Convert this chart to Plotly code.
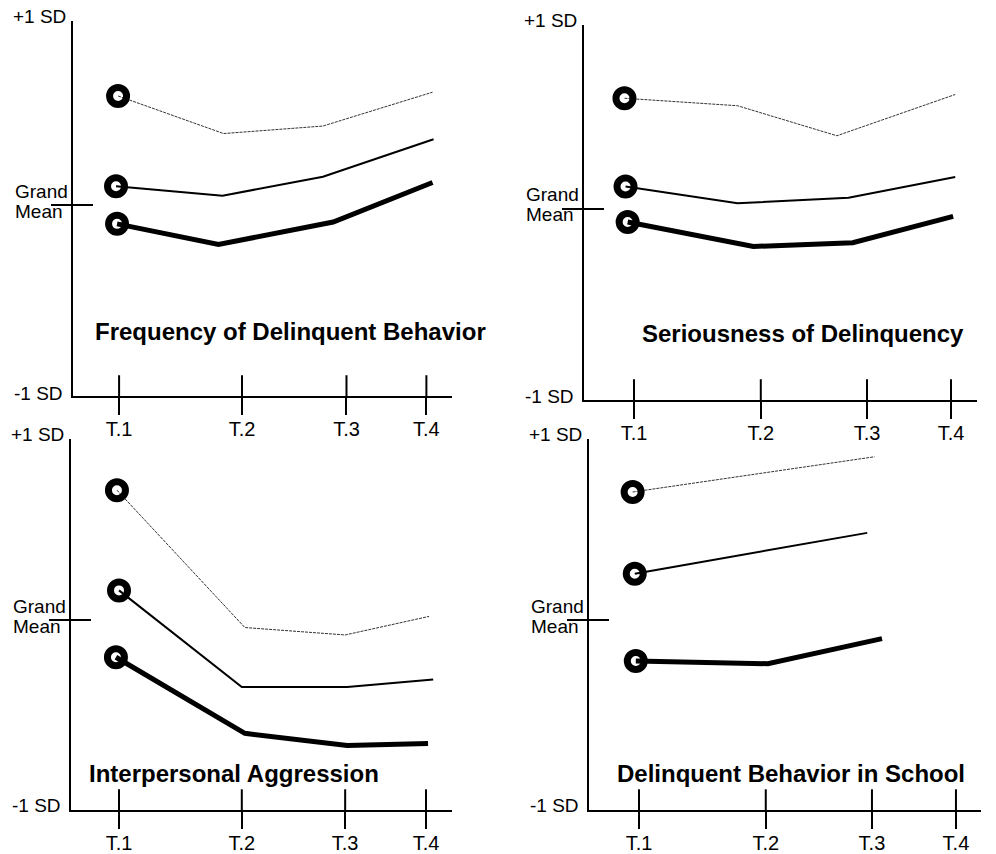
import plotly.graph_objects as go

W, H = 996, 854

tick_labels = ["T.1", "T.2", "T.3", "T.4"]
panel_titles = [
    "Frequency of Delinquent Behavior",
    "Seriousness of Delinquency",
    "Interpersonal Aggression",
    "Delinquent Behavior in School",
]

# ---- data (time in T units, values in SD units; grand mean = 0) ----
# Panel 1: Frequency of Delinquent Behavior
p1_ticks = [1.0, 2.20, 3.22, 4.0]
p1_xrange = [0.55, 4.25]
p1_yrange = [-1.016, 0.979]
p1_thin_x = [0.99, 2.02, 2.99, 4.06]
p1_thin_y = [0.58, 0.38, 0.42, 0.60]
p1_med_x = [0.97, 2.01, 2.99, 4.07]
p1_med_y = [0.10, 0.05, 0.15, 0.35]
p1_thick_x = [0.98, 1.97, 3.09, 4.06]
p1_thick_y = [-0.10, -0.21, -0.09, 0.12]

# Panel 2: Seriousness of Delinquency
p2_ticks = [1.0, 2.20, 3.205, 4.0]
p2_xrange = [0.527, 4.246]
p2_yrange = [-1.019, 0.981]
p2_thin_x = [0.91, 1.98, 2.92, 4.04]
p2_thin_y = [0.59, 0.55, 0.39, 0.61]
p2_med_x = [0.92, 1.98, 3.03, 4.04]
p2_med_y = [0.12, 0.03, 0.06, 0.17]
p2_thick_x = [0.94, 2.13, 3.07, 4.02]
p2_thick_y = [-0.07, -0.20, -0.18, -0.04]

# Panel 3: Interpersonal Aggression
p3_ticks = [1.0, 2.20, 3.21, 4.0]
p3_xrange = [0.531, 4.254]
p3_yrange = [-1.024, 0.976]
p3_thin_x = [0.98, 2.23, 3.21, 4.03]
p3_thin_y = [0.70, -0.04, -0.08, 0.02]
p3_med_x = [1.00, 2.20, 3.23, 4.07]
p3_med_y = [0.16, -0.36, -0.36, -0.32]
p3_thick_x = [0.97, 2.23, 3.23, 4.02]
p3_thick_y = [-0.20, -0.61, -0.675, -0.665]

# Panel 4: Delinquent Behavior in School
p4_ticks = [1.0, 2.20, 3.205, 4.0]
p4_xrange = [0.527, 4.237]
p4_yrange = [-1.024, 0.976]
p4_thin_x = [0.94, 3.23]
p4_thin_y = [0.69, 0.88]
p4_med_x = [0.96, 3.16]
p4_med_y = [0.25, 0.47]
p4_thick_x = [0.97, 2.22, 3.30]
p4_thick_y = [-0.22, -0.235, -0.10]

panels = [
    dict(ticks=p1_ticks, xr=p1_xrange, yr=p1_yrange,
         series=[(p1_thin_x, p1_thin_y), (p1_med_x, p1_med_y), (p1_thick_x, p1_thick_y)]),
    dict(ticks=p2_ticks, xr=p2_xrange, yr=p2_yrange,
         series=[(p2_thin_x, p2_thin_y), (p2_med_x, p2_med_y), (p2_thick_x, p2_thick_y)]),
    dict(ticks=p3_ticks, xr=p3_xrange, yr=p3_yrange,
         series=[(p3_thin_x, p3_thin_y), (p3_med_x, p3_med_y), (p3_thick_x, p3_thick_y)]),
    dict(ticks=p4_ticks, xr=p4_xrange, yr=p4_yrange,
         series=[(p4_thin_x, p4_thin_y), (p4_med_x, p4_med_y), (p4_thick_x, p4_thick_y)]),
]

# ---- layout (pixel boxes of each panel's axes) ----
boxes = [(73, 452, 21, 398), (584, 977, 25, 402), (71, 452, 441, 814), (589, 981, 441, 814)]
title_pos = [(0.575, 0.172), (0.557, 0.178), (0.429, 0.098), (0.515, 0.098)]
line_styles = [
    dict(width=1, color="#333333", dash="3px,1px"),
    dict(width=2, color="black"),
    dict(width=5, color="black"),
]
FONT = "Liberation Sans, Arial, sans-serif"

fig = go.Figure()
layout = dict(width=W, height=H, margin=dict(l=0, r=0, t=0, b=0),
              paper_bgcolor="white", plot_bgcolor="white", showlegend=False)
shapes = []
annotations = []

for i, (p, box) in enumerate(zip(panels, boxes)):
    n = "" if i == 0 else str(i + 1)
    xa, ya = "x" + n, "y" + n
    x0, x1, y0, y1 = box
    lx, ly = x1 - x0, y1 - y0
    dx = [x0 / W, x1 / W]
    dy = [1 - y1 / H, 1 - y0 / H]

    for (sx, sy), st in zip(p["series"], line_styles):
        fig.add_trace(go.Scatter(x=sx, y=sy, mode="lines", line=st,
                                 xaxis=xa, yaxis=ya, hoverinfo="skip"))
    for (sx, sy) in p["series"]:
        fig.add_trace(go.Scatter(x=[sx[0]], y=[sy[0]], mode="markers",
                                 marker=dict(symbol="circle-open", size=17, color="black",
                                             line=dict(width=7, color="black")),
                                 xaxis=xa, yaxis=ya, hoverinfo="skip"))

    layout["xaxis" + n] = dict(domain=dx, anchor=ya, range=p["xr"], showgrid=False,
                               zeroline=False, showline=True, linewidth=2, linecolor="black",
                               tickmode="array", tickvals=p["ticks"], ticktext=tick_labels,
                               ticks="outside", ticklen=17, tickwidth=2, tickcolor="black",
                               ticklabelstandoff=-3,
                               tickfont=dict(family=FONT, size=20, color="black"))
    layout["yaxis" + n] = dict(domain=dy, anchor=xa, range=p["yr"], showgrid=False,
                               zeroline=False, showline=True, linewidth=2, linecolor="black",
                               showticklabels=False, ticks="")

    # upper halves of the crossing time ticks
    for t in p["ticks"]:
        shapes.append(dict(type="line", xref=xa, yref=ya + " domain", x0=t, x1=t,
                           y0=0, y1=21 / ly, line=dict(color="black", width=2)))
    # grand mean tick crossing the y axis
    shapes.append(dict(type="line", xref=xa + " domain", yref=ya, x0=-22 / lx, x1=20 / lx,
                       y0=0, y1=0, line=dict(color="black", width=2)))

    lab_font = dict(family=FONT, size=19, color="black")
    annotations.append(dict(text="+1 SD", xref="paper", yref=ya + " domain", x=(x0 - 5) / W,
                            y=1, xanchor="right", yanchor="middle", yshift=4,
                            showarrow=False, font=lab_font))
    annotations.append(dict(text="-1 SD", xref="paper", yref=ya, x=(x0 - 8) / W, y=-1,
                            xanchor="right", yanchor="middle", showarrow=False,
                            font=lab_font))
    annotations.append(dict(text="Grand", xref="paper", yref=ya, x=(x0 - 60) / W, y=0,
                            xanchor="left", yanchor="middle", yshift=14,
                            showarrow=False, font=lab_font))
    annotations.append(dict(text="Mean", xref="paper", yref=ya, x=(x0 - 60) / W, y=0,
                            xanchor="left", yanchor="middle", yshift=-6,
                            showarrow=False, font=lab_font))
    tx, ty = title_pos[i]
    annotations.append(dict(text="<b>" + panel_titles[i] + "</b>", xref=xa + " domain",
                            yref=ya + " domain", x=tx, y=ty, xanchor="center",
                            yanchor="middle", showarrow=False,
                            font=dict(family=FONT, size=24, color="black")))

layout["shapes"] = shapes
layout["annotations"] = annotations
fig.update_layout(**layout)
fig.write_html("out.html", config={"displayModeBar": False},
               post_script="document.body.style.margin='0';document.body.style.overflow='hidden';")
